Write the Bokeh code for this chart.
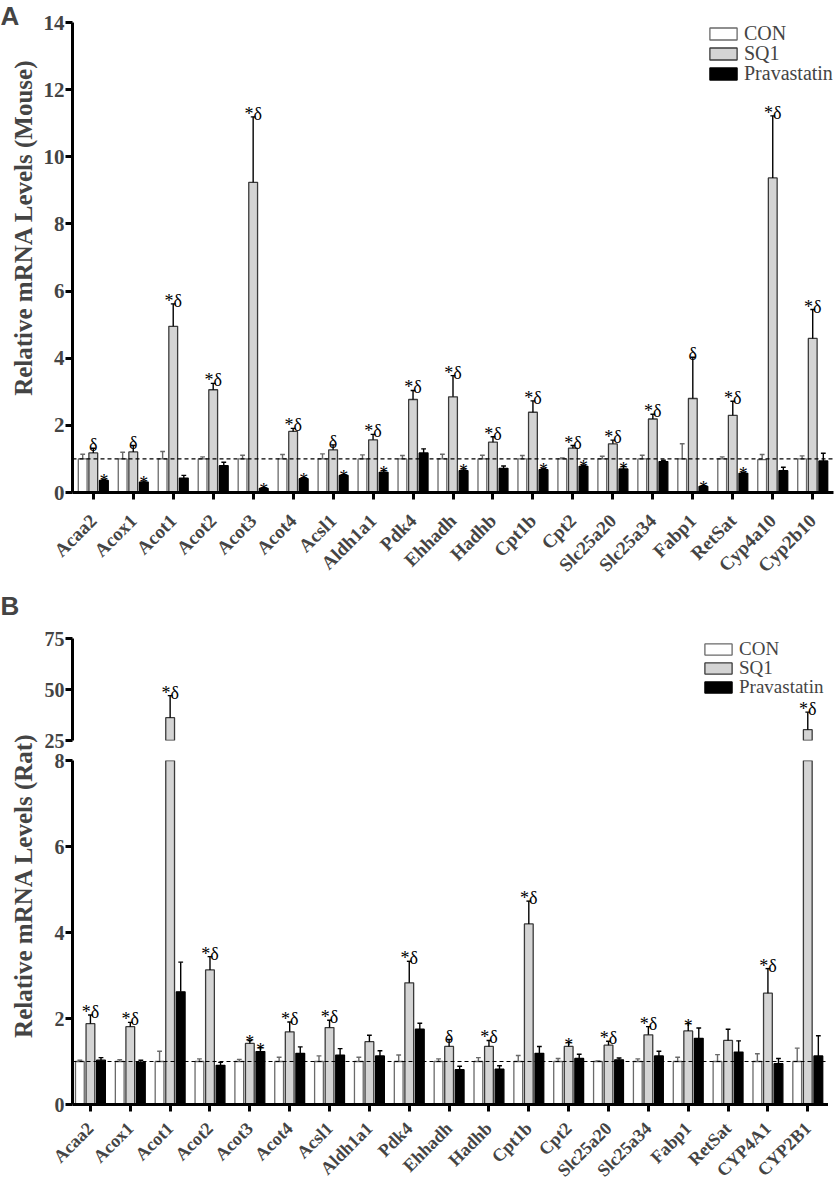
import math
import numpy as np
from bokeh.plotting import figure
from bokeh.models import (Range1d, FixedTicker, Span, Legend, LegendItem, Label, ColumnDataSource,
                          CDSView, BooleanFilter)
from bokeh.layouts import column, row
from bokeh.embed import file_html
from bokeh.resources import INLINE
from bokeh.core.properties import value

# ---------------- data: panel A (mouse) ----------------
mouse_genes = ["Acaa2", "Acox1", "Acot1", "Acot2", "Acot3", "Acot4", "Acsl1", "Aldh1a1", "Pdk4",
               "Ehhadh", "Hadhb", "Cpt1b", "Cpt2", "Slc25a20", "Slc25a34", "Fabp1", "RetSat",
               "Cyp4a10", "Cyp2b10"]
mouse_con = [1.0, 1.0, 1.0, 1.0, 1.0, 1.0, 1.0, 1.0, 1.0, 1.0, 1.0, 1.0, 1.0, 1.0, 1.0, 1.0, 1.0, 0.98, 1.0]
mouse_con_sem = [0.14, 0.20, 0.22, 0.06, 0.11, 0.13, 0.15, 0.12, 0.10, 0.14, 0.11, 0.10, 0.03, 0.08,
                 0.11, 0.45, 0.06, 0.15, 0.09]
mouse_sq1 = [1.18, 1.21, 4.95, 3.06, 9.24, 1.82, 1.27, 1.57, 2.77, 2.85, 1.50, 2.39, 1.32, 1.45,
             2.19, 2.80, 2.30, 9.37, 4.59]
mouse_sq1_sem = [0.14, 0.19, 0.67, 0.19, 1.95, 0.09, 0.15, 0.16, 0.27, 0.63, 0.16, 0.34, 0.08, 0.11,
                 0.14, 1.23, 0.42, 1.85, 0.86]
mouse_prav = [0.36, 0.31, 0.43, 0.80, 0.12, 0.41, 0.51, 0.60, 1.18, 0.65, 0.72, 0.68, 0.78, 0.70,
              0.92, 0.18, 0.57, 0.65, 0.94]
mouse_prav_sem = [0.03, 0.03, 0.08, 0.10, 0.02, 0.03, 0.02, 0.05, 0.12, 0.05, 0.07, 0.04, 0.03, 0.07,
                  0.04, 0.02, 0.03, 0.10, 0.23]
mouse_sq1_sig = ["δ", "δ", "*δ", "*δ", "*δ", "*δ", "δ", "*δ", "*δ", "*δ", "*δ", "*δ", "*δ", "*δ",
                 "*δ", "δ", "*δ", "*δ", "*δ"]
mouse_prav_sig = ["*", "*", "", "", "*", "*", "*", "*", "", "*", "", "*", "*", "*", "", "*", "*", "", ""]

# ---------------- data: panel B (rat) ----------------
rat_genes = ["Acaa2", "Acox1", "Acot1", "Acot2", "Acot3", "Acot4", "Acsl1", "Aldh1a1", "Pdk4",
             "Ehhadh", "Hadhb", "Cpt1b", "Cpt2", "Slc25a20", "Slc25a34", "Fabp1", "RetSat",
             "CYP4A1", "CYP2B1"]
rat_con = [1.0, 1.0, 1.0, 1.0, 1.0, 1.0, 1.0, 1.0, 1.0, 1.0, 1.0, 1.0, 1.0, 1.0, 1.0, 1.0, 1.0, 1.0, 1.0]
rat_con_sem = [0.03, 0.04, 0.24, 0.06, 0.05, 0.10, 0.13, 0.10, 0.15, 0.06, 0.09, 0.14, 0.07, 0.01,
               0.06, 0.10, 0.16, 0.18, 0.31]
rat_sq1 = [1.88, 1.81, 36.2, 3.13, 1.42, 1.69, 1.79, 1.46, 2.83, 1.35, 1.35, 4.20, 1.35, 1.38,
           1.62, 1.71, 1.49, 2.59, 30.3]
rat_sq1_sem = [0.20, 0.10, 10.8, 0.31, 0.07, 0.23, 0.17, 0.15, 0.50, 0.16, 0.14, 0.53, 0.09, 0.09,
               0.19, 0.17, 0.26, 0.57, 8.6]
rat_prav = [1.03, 0.98, 2.62, 0.91, 1.23, 1.19, 1.15, 1.13, 1.75, 0.81, 0.82, 1.19, 1.07, 1.04,
            1.13, 1.54, 1.22, 0.95, 1.13]
rat_prav_sem = [0.06, 0.05, 0.69, 0.07, 0.09, 0.15, 0.15, 0.12, 0.14, 0.08, 0.08, 0.16, 0.10, 0.04,
                0.11, 0.24, 0.26, 0.12, 0.47]
rat_sq1_sig = ["*δ", "*δ", "*δ", "*δ", "*", "*δ", "*δ", "", "*δ", "δ", "*δ", "*δ", "*", "*δ",
               "*δ", "*", "", "*δ", "*δ"]
rat_prav_sig = ["", "", "", "", "*", "", "", "", "", "", "", "", "", "", "", "", "", "", ""]

series_names = ["CON", "SQ1", "Pravastatin"]
mouse_yticks = [0, 2, 4, 6, 8, 10, 12, 14]
rat_low_yticks = [0, 2, 4, 6, 8]
rat_high_yticks = [25, 50, 75]

# ---------------- styling ----------------
SERIF = "Liberation Serif"
SANS = "Liberation Sans"
OFF, BW, CAP = 0.265, 0.22, 0.06
FILLS = ["white", "#d4d4d4", "black"]
LINES = ["#6a6a6a", "#3a3a3a", "black"]
ECOLS = ["#6a6a6a", "black", "black"]


def base_style(p, yticks, size="21px"):
    p.outline_line_color = None
    p.xgrid.grid_line_color = None
    p.ygrid.grid_line_color = None
    ya = p.yaxis[0]
    ya.ticker = FixedTicker(ticks=yticks)
    ya.axis_line_width = 3
    ya.major_tick_line_width = 3
    ya.major_tick_out = 7
    ya.major_tick_in = 0
    ya.minor_tick_line_color = None
    ya.major_label_text_font = SERIF
    ya.major_label_text_font_style = "bold"
    ya.major_label_text_font_size = size
    ya.major_label_standoff = 1


def style_xaxis(p, genes, size, standoff):
    xa = p.xaxis[0]
    xa.ticker = FixedTicker(ticks=list(range(len(genes))))
    xa.major_label_overrides = {i: g for i, g in enumerate(genes)}
    xa.axis_line_width = 3
    xa.major_tick_line_width = 3
    xa.major_tick_out = 7
    xa.major_tick_in = 0
    xa.minor_tick_line_color = None
    xa.major_label_orientation = math.pi / 4
    xa.major_label_text_font = SERIF
    xa.major_label_text_font_style = "bold"
    xa.major_label_text_font_size = size
    xa.major_label_standoff = standoff


def draw_groups(p, con, con_sem, sq1, sq1_sem, prav, prav_sem, sq1_sig, prav_sig, ymin, ymax):
    idx = np.arange(len(con), dtype=float)
    xs_list = [idx - OFF, idx, idx + OFF]
    legend_rs = []
    for xs, m, s, fill, line, ecol in zip(xs_list, [con, sq1, prav], [con_sem, sq1_sem, prav_sem],
                                          FILLS, LINES, ECOLS):
        m = np.asarray(m, float)
        e = m + np.asarray(s, float)
        keep = [bool(v > ymin) for v in m]
        src = ColumnDataSource(dict(x=xs, top=m))
        p.vbar(x="x", top="top", bottom=0, width=BW, source=src,
               view=CDSView(filter=BooleanFilter(booleans=keep)),
               fill_color=fill, line_color=line, line_width=1.3)
        # legend-only renderer (full series, not drawn in the plot area)
        lr = p.vbar(x="x", top="top", bottom=0, width=BW, source=src, visible=False,
                    fill_color=fill, line_color=line, line_width=1.3)
        legend_rs.append(lr)
        ke = (e > ymin) & (m < ymax)
        esrc = ColumnDataSource(dict(x=xs[ke], top=m[ke], err=e[ke], xl=xs[ke] - CAP, xr=xs[ke] + CAP))
        p.segment(x0="x", y0="top", x1="x", y1="err", source=esrc, line_color=ecol, line_width=1.4)
        p.segment(x0="xl", y0="err", x1="xr", y1="err", source=esrc, line_color=ecol, line_width=1.4)
    for xs, m, s, sig in [(idx, sq1, sq1_sem, sq1_sig), (idx + OFF, prav, prav_sem, prav_sig)]:
        e = np.asarray(m, float) + np.asarray(s, float)
        kt = [i for i in range(len(sig)) if sig[i] and ymin <= e[i] <= ymax]
        src = ColumnDataSource(dict(x=[xs[i] for i in kt], y=[e[i] for i in kt],
                                    t=[sig[i] for i in kt],
                                    yo=[-3 if "δ" in sig[i] else 2 for i in kt]))
        p.text(x="x", y="y", text="t", y_offset="yo", source=src, text_align="center",
               text_baseline="alphabetic", text_font=value(SERIF), text_font_size="18px",
               text_color="black")
    return legend_rs


def add_legends(p, rs, xpos, ybottoms, gh, fsize):
    for n, r, yb in zip(series_names, rs, ybottoms):
        leg = Legend(items=[LegendItem(label=n, renderers=[r])], location=(xpos, yb),
                     border_line_color=None, background_fill_alpha=0,
                     inactive_fill_alpha=0, click_policy="none",
                     glyph_width=34, glyph_height=gh, label_text_font=SERIF,
                     label_text_font_size=fsize, spacing=0, padding=0, margin=0,
                     label_standoff=4, label_height=gh)
        p.add_layout(leg)


def label_fig(w, h, letter, title, tx, ty):
    pl = figure(width=w, height=h, x_range=Range1d(0, 1), y_range=Range1d(0, 1),
                output_backend="svg", toolbar_location=None, x_axis_location=None,
                y_axis_location=None, min_border=0)
    pl.outline_line_color = None
    pl.xgrid.grid_line_color = None
    pl.ygrid.grid_line_color = None
    pl.add_layout(Label(x=0, y=h, x_units="screen", y_units="screen", text=letter,
                        text_font=SANS, text_font_style="bold", text_font_size="26px",
                        text_baseline="top", text_align="left"))
    pl.add_layout(Label(x=tx, y=ty, x_units="screen", y_units="screen", text=title,
                        angle=math.pi / 2, text_font=SERIF, text_font_style="bold",
                        text_font_size="25px", text_align="center", text_baseline="middle"))
    return pl


LBL_W = 40

# ---------------- Panel A ----------------
A_H = 590
pA = figure(width=795, height=A_H, x_range=Range1d(-0.52, 18.52), y_range=Range1d(0, 14),
            output_backend="svg", toolbar_location=None,
            min_border_left=32, min_border_right=2, min_border_top=22, min_border_bottom=98)
base_style(pA, mouse_yticks)
style_xaxis(pA, mouse_genes, "19px", 18)
rsA = draw_groups(pA, mouse_con, mouse_con_sem, mouse_sq1, mouse_sq1_sem, mouse_prav,
                  mouse_prav_sem, mouse_sq1_sig, mouse_prav_sig, 0, 14)
pA.add_layout(Span(location=1, dimension="width", line_dash="4 3", line_width=1.2, line_color="black"))
add_legends(pA, rsA, 634, [447, 427, 407], 15, "20px")
pLA = label_fig(LBL_W, A_H, "A", "Relative mRNA Levels (Mouse)", 23, A_H - 227)

# ---------------- Panel B (broken axis) ----------------
xrB = Range1d(-0.45, 18.52)
BT_H, BB_H = 161, 439
pBt = figure(width=788, height=BT_H, x_range=xrB, y_range=Range1d(25, 75),
             output_backend="svg", toolbar_location=None, x_axis_location=None,
             min_border_left=32, min_border_right=0, min_border_top=48, min_border_bottom=11)
base_style(pBt, rat_high_yticks, "20px")
rsBt = draw_groups(pBt, rat_con, rat_con_sem, rat_sq1, rat_sq1_sem, rat_prav, rat_prav_sem,
                   rat_sq1_sig, rat_prav_sig, 25, 75)
add_legends(pBt, rsBt, 629, [80, 61, 42], 14, "19px")

pBb = figure(width=788, height=BB_H, x_range=xrB, y_range=Range1d(0, 8),
             output_backend="svg", toolbar_location=None,
             min_border_left=32, min_border_right=0, min_border_top=9, min_border_bottom=83)
base_style(pBb, rat_low_yticks, "20px")
style_xaxis(pBb, rat_genes, "18px", 14)
draw_groups(pBb, rat_con, rat_con_sem, rat_sq1, rat_sq1_sem, rat_prav, rat_prav_sem,
            rat_sq1_sig, rat_prav_sig, 0, 8)
pBb.add_layout(Span(location=1, dimension="width", line_dash="4 3", line_width=1.2, line_color="black"))

pLB = label_fig(LBL_W, BT_H + BB_H, "B", "Relative mRNA Levels (Rat)", 23, BT_H + BB_H - 295)

layout = column(row(pLA, column(pA)), row(pLB, column(pBt, pBb)))

open("out.html", "w").write(file_html(layout, INLINE))
